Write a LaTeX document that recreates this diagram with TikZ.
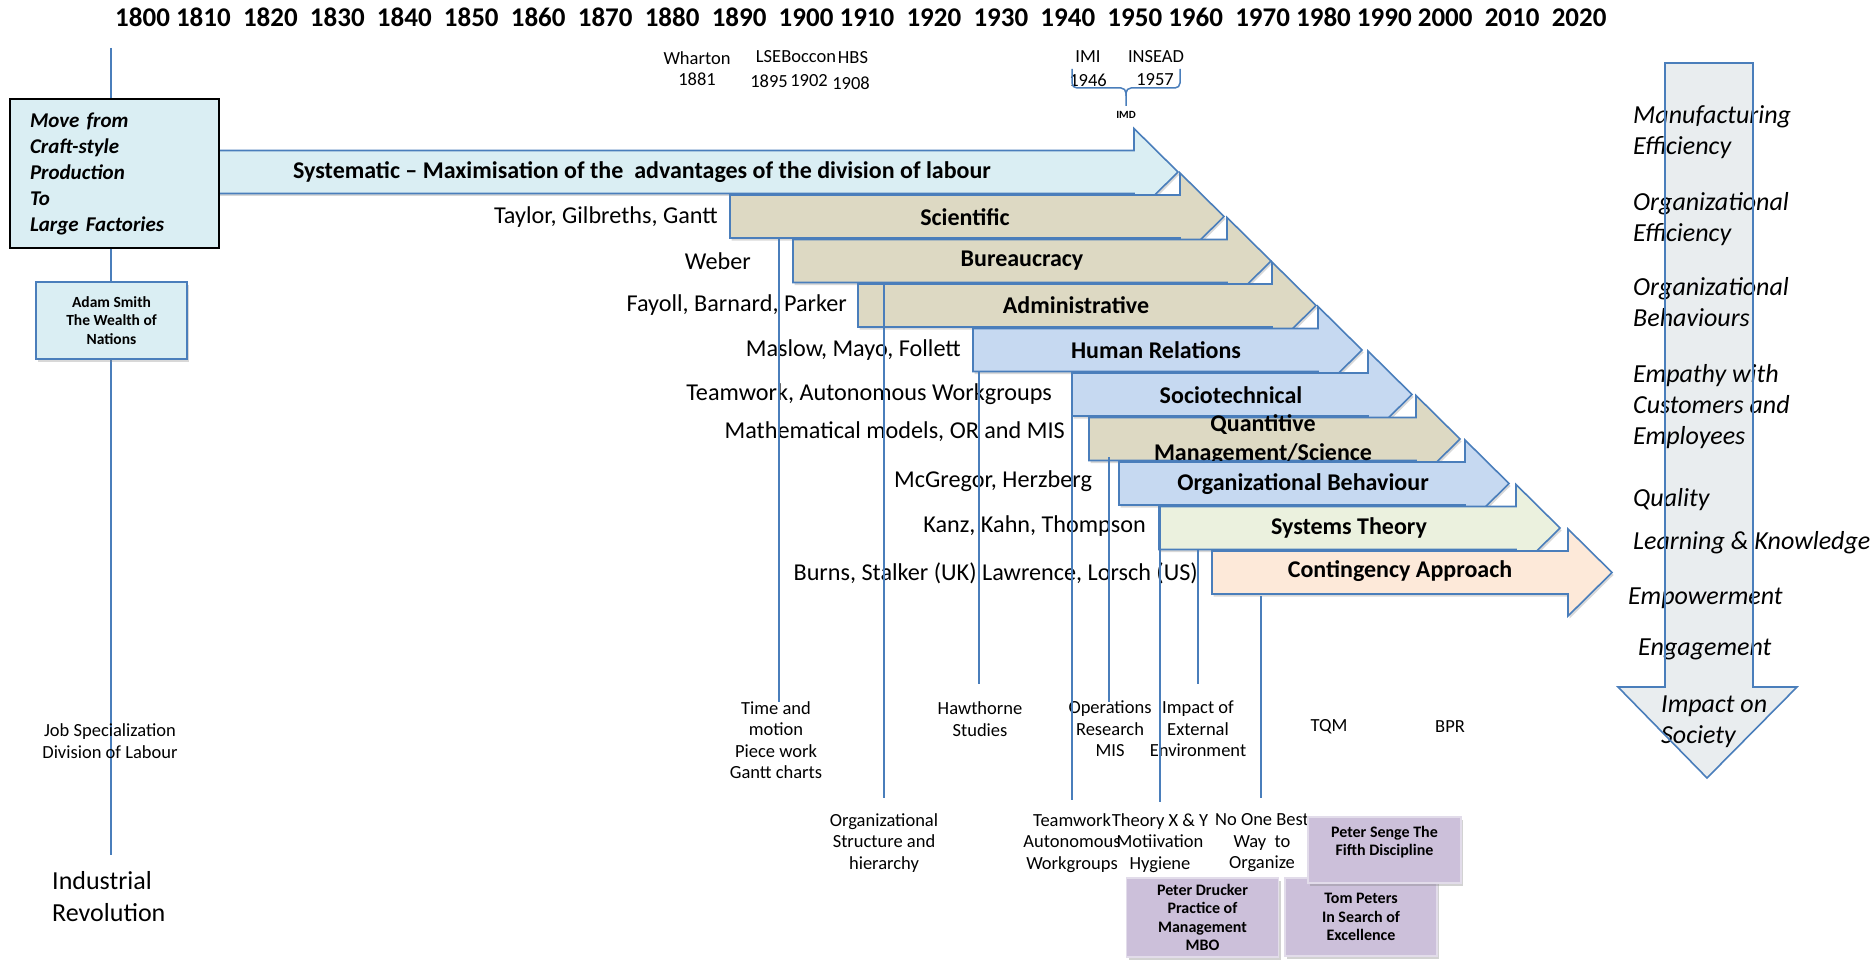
\documentclass[tikz,border=0pt]{standalone}
\usepackage{fontspec}
\setmainfont{Carlito}
\usetikzlibrary{shadows}

\definecolor{edgeblue}{RGB}{74,126,187}
\definecolor{paleblue}{RGB}{218,238,243}
\definecolor{khaki}{RGB}{221,217,195}
\definecolor{skyblue}{RGB}{198,217,241}
\definecolor{palegreen}{RGB}{235,241,222}
\definecolor{peach}{RGB}{253,233,217}
\definecolor{lilac}{RGB}{204,192,218}
\definecolor{lilacedge}{RGB}{226,220,234}
\definecolor{mist}{RGB}{233,237,239}

\newcommand\fsz[2]{\fontsize{#1}{#2}\selectfont}
% staircase arrow: fill colour, left x, tip x, centre y
\newcommand\stairarrow[4]{%
  \draw[stair, fill=#1] (#2,#4-21.5) -- (#3-44,#4-21.5) -- (#3-44,#4-43.5)
    -- (#3,#4) -- (#3-44,#4+43.5) -- (#3-44,#4+21.5) -- (#2,#4+21.5) -- cycle;}

\begin{document}
\begin{tikzpicture}[x=1pt, y=-1pt,
  stair/.style={draw=edgeblue, line width=1.6pt,
    drop shadow={shadow xshift=1.5pt, shadow yshift=-2.5pt, opacity=0.3}},
  arrtxt/.style={inner sep=0, font=\bfseries\fsz{24}{29}, align=center},
  who/.style={inner sep=0, anchor=east, font=\fsz{24.2}{28}},
  small/.style={inner sep=0, align=center, font=\fsz{18.5}{21.5}},
  tick/.style={draw=edgeblue, line width=1.2pt},
  book/.style={draw=lilacedge, line width=1.5pt, fill=lilac, align=center,
    inner sep=0, font=\bfseries\fsz{16}{18.5},
    drop shadow={shadow xshift=2pt, shadow yshift=-2.5pt, opacity=0.35}},
  value/.style={inner sep=0, anchor=west, align=left, font=\itshape\fsz{26}{31}}]

\useasboundingbox (0,0) rectangle (1876,960);
\fill[white] (0,0) rectangle (1876,960);

% year scale
\node[anchor=base west, inner sep=0, font=\bfseries\fsz{27}{30}] (years) at (115,27)
  {1800 1810\ \ 1820\ \ 1830\ \ 1840\ \ 1850\ \ 1860\ \ 1870\ \ 1880\ \ 1890\ \ 1900 1910\ \ 1920\ \ 1930\ \ 1940\ \ 1950 1960\ \ 1970 1980 1990 2000\ \ 2010\ \ 2020};

% business schools
\node[small] (wharton) at (697,68.5) {Wharton\\1881};
\node[small] (lse) at (796,57) {LSEBoccon};
\node[small] (hbs) at (853,58) {HBS};
\node[small] (y1895) at (769,81) {1895};
\node[small] (y1902) at (809,81) {1902};
\node[small] (y1908) at (851,83) {1908};
\node[small] (imi) at (1088,57) {IMI};
\node[small] (insead) at (1156,57) {INSEAD};
\node[small] (y1946) at (1088,80) {1946};
\node[small] (y1957) at (1155,80) {1957};
\draw[edgeblue, line width=1.5pt, rounded corners=5pt] (1072,69) -- (1072,88) -- (1126,88) -- (1126,106);
\draw[edgeblue, line width=1.5pt, rounded corners=5pt] (1126,96) -- (1126,88) -- (1180,88) -- (1180,69);
\node[inner sep=0, font=\bfseries\fsz{11}{13}] (imd) at (1126,115) {IMD};

% main timeline
\coordinate (ttop) at (111,48);
\coordinate (tbot) at (111,855);
\draw[tick] (ttop) -- (tbot);

% schools of management thought
\stairarrow{paleblue}{215}{1178}{172}
\node[arrtxt] (a1) at (642,172) {Systematic – Maximisation of the\ \ advantages of the division of labour};
\stairarrow{khaki}{730}{1224}{216.5}
\node[arrtxt] (a2) at (965,217) {Scientific};
\stairarrow{khaki}{793}{1271}{261}
\node[arrtxt] (a3) at (1022,261) {Bureaucracy};
\stairarrow{khaki}{858}{1316}{305.5}
\node[arrtxt] (a4) at (1076,305) {Administrative};
\stairarrow{skyblue}{973}{1362}{350}
\node[arrtxt] (a5) at (1156,350) {Human Relations};
\stairarrow{skyblue}{1072}{1412}{394.5}
\node[arrtxt] (a6) at (1231,395) {Sociotechnical};
\stairarrow{khaki}{1089}{1460}{439}
\node[arrtxt] (a7) at (1263,440) {Quantitive\\Management/Science};
\stairarrow{skyblue}{1119}{1509}{483.5}
\node[arrtxt] (a8) at (1303,484) {Organizational Behaviour};
\stairarrow{palegreen}{1159}{1560}{528}
\node[arrtxt] (a9) at (1349,528) {Systems Theory};
\stairarrow{peach}{1212}{1612}{572.5}
\node[arrtxt] (a10) at (1400,571) {Contingency Approach};

% thinkers
\node[who] (w2) at (718,217) {Taylor, Gilbreths, Gantt};
\node[who] (w3) at (751,261) {Weber};
\node[who] (w4) at (847,305) {Fayoll, Barnard, Parker};
\node[who] (w5) at (961,350) {Maslow, Mayo, Follett};
\node[who] (w6) at (1052,394) {Teamwork, Autonomous Workgroups};
\node[who] (w7) at (1065,432) {Mathematical models, OR and MIS};
\node[who] (w8) at (1092,481) {McGregor, Herzberg};
\node[who] (w9) at (1146,526) {Kanz, Kahn, Thompson};
\node[who] (w10) at (1198,573) {Burns, Stalker (UK) Lawrence, Lorsch (US)};

% contributions
\node[small] (time) at (776,740) {Time and\\motion\\Piece work\\Gantt charts};
\node[small] (struct) at (884,843) {Organizational\\Structure and\\hierarchy};
\node[small] (hawth) at (980,719) {Hawthorne\\Studies};
\node[small] (opres) at (1110,729) {Operations\\Research\\MIS};
\node[small] (extenv) at (1198,729) {Impact of\\External\\Environment};
\node[small] (teams) at (1072,843) {Teamwork\\Autonomous\\Workgroups};
\node[small] (theory) at (1160,843) {Theory X \& Y\\Motiivation\\Hygiene};
\node[small] (nobest) at (1262,843) {No One Best\\Way\ \ to\\Organize};
\node[small] (tqm) at (1329,727) {TQM};
\node[small] (bpr) at (1450,727) {BPR};
\node[small] (jobspec) at (110,741) {Job Specialization\\Division of Labour};
\node[inner sep=0, anchor=west, align=left, font=\fsz{26}{32}] (indrev) at (52,897) {Industrial\\Revolution};

% drop lines from the arrows
\coordinate (d1a) at (779,238);  \coordinate (d1b) at (779,702);
\coordinate (d2a) at (884,283);  \coordinate (d2b) at (884,798);
\coordinate (d3a) at (979,372);  \coordinate (d3b) at (979,684);
\coordinate (d4a) at (1072,417); \coordinate (d4b) at (1072,800);
\coordinate (d5a) at (1109,457); \coordinate (d5b) at (1109,702);
\coordinate (d6a) at (1160,507); \coordinate (d6b) at (1160,802);
\coordinate (d7a) at (1198,549); \coordinate (d7b) at (1198,684);
\coordinate (d8a) at (1261,596); \coordinate (d8b) at (1261,798);
\foreach \k in {1,...,8} \draw[tick] (d\k a) -- (d\k b);

% origin boxes
\node[draw=black, line width=2pt, fill=paleblue, text width=169pt, inner xsep=20pt,
  minimum height=149pt, align=left, font=\bfseries\itshape\fsz{21}{26}] (craft) at (114.5,173.5)
  {Move from\\Craft-style\\Production\\To\\Large Factories};
\node[draw=edgeblue, line width=2pt, fill=paleblue, minimum width=151pt, minimum height=77pt,
  inner sep=0, align=center, font=\bfseries\fsz{15.5}{18.5},
  drop shadow={shadow xshift=2pt, shadow yshift=-3pt, opacity=0.3}] (smith) at (111.5,320.5)
  {Adam Smith\\The Wealth of\\Nations};

% books
\node[book, minimum width=152pt, minimum height=79pt] (drucker) at (1202.5,917.5)
  {Peter Drucker\\Practice of\\Management\\MBO};
\node[book, minimum width=152pt, minimum height=78pt] (peters) at (1361,917)
  {Tom Peters\\In Search of\\Excellence};
\node[book, minimum width=153pt, minimum height=66pt] (senge) at (1384.5,850)
  {Peter Senge The\\Fifth Discipline\\\mbox{}};

% impact arrow
\fill[mist] (1665,63) -- (1753,63) -- (1753,687) -- (1797,687) -- (1707,778)
  -- (1618,687) -- (1665,687) -- cycle;
\node[value] (v1) at (1633,132.5) {Manufacturing\\Efficiency};
\node[value] (v2) at (1633,219.5) {Organizational\\Efficiency};
\node[value] (v3) at (1633,302.5) {Organizational\\Behaviours};
\node[value] (v4) at (1633,407) {Empathy with\\Customers and\\Employees};
\node[value] (v5) at (1633,500) {Quality};
\node[value] (v6) at (1633,543) {Learning \& Knowledge};
\node[value] (v7) at (1628,598) {Empowerment};
\node[value] (v8) at (1638,649) {Engagement};
\node[value] (v9) at (1661,722) {Impact on\\Society};
\draw[edgeblue, line width=1.6pt] (1665,63) -- (1753,63) -- (1753,687) -- (1797,687)
  -- (1707,778) -- (1618,687) -- (1665,687) -- cycle;

\end{tikzpicture}
\end{document}
